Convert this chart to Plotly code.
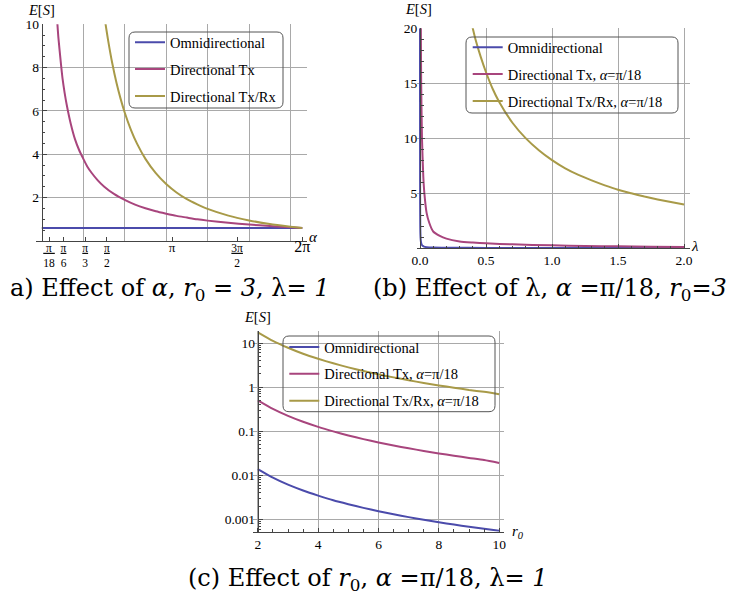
import plotly.graph_objects as go

W, H = 733, 594
PI = 3.141592653589793

# ---------------- data ----------------
# (a) effect of alpha
alpha_omni = [0.0, 1.0, 2.0, 3.0, 4.0, 5.0, 6.283]
omni_a = [0.6, 0.6, 0.6, 0.6, 0.6, 0.6, 0.6]
alpha_tx = [0.37, 0.40, 0.45, 0.50, 0.55, 0.60, 0.70, 0.80, 0.90, 1.00, 1.10, 1.20, 1.35, 1.50,
            1.75, 2.00, 2.25, 2.50, 2.75, 3.00, 3.25, 3.50, 3.75, 4.00, 4.50, 5.00, 5.50, 6.00, 6.283]
tx_a = [10.2, 9.4, 8.4, 7.5, 6.85, 6.3, 5.4, 4.7, 4.2, 3.8, 3.43, 3.15, 2.8, 2.52,
        2.16, 1.9, 1.68, 1.51, 1.37, 1.26, 1.16, 1.08, 1.0, 0.94, 0.84, 0.76, 0.69, 0.63, 0.6]
alpha_txrx = [1.50, 1.55, 1.60, 1.70, 1.80, 1.90, 2.00, 2.15, 2.30, 2.50, 2.75, 3.00, 3.25, 3.50,
              3.75, 4.00, 4.50, 5.00, 5.50, 6.00, 6.283]
txrx_a = [10.5, 9.86, 9.26, 8.2, 7.31, 6.57, 5.93, 5.13, 4.48, 3.79, 3.13, 2.63, 2.24, 1.93,
          1.69, 1.48, 1.17, 0.95, 0.78, 0.66, 0.6]
alpha_tickvals = [PI / 18, PI / 6, PI / 3, PI / 2, PI, 3 * PI / 2, 2 * PI]
alpha_ticktext = ["<u>\u00a0π\u00a0</u><br>18", "<u>π</u><br>6", "<u>π</u><br>3", "<u>π</u><br>2",
                  "<span style='font-size:13px'>π</span>", "<u>3π</u><br>2",
                  "<span style='font-size:16px'>2π</span>"]

# (b) effect of lambda
lam_omni = [0.0002, 0.0003, 0.0005, 0.001, 0.002, 0.003, 0.005, 0.008, 0.012, 0.02, 0.03,
            0.05, 0.1, 0.2, 0.5, 1.0, 1.5, 2.0]
omni_b = [20.0, 13.3, 8.0, 4.0, 2.0, 1.33, 0.8, 0.5, 0.33, 0.2, 0.13,
          0.08, 0.04, 0.02, 0.008, 0.004, 0.0027, 0.002]
lam_tx = [0.005, 0.0065, 0.009, 0.015, 0.025, 0.033, 0.05, 0.07, 0.1, 0.15, 0.2, 0.3, 0.4,
          0.5, 0.7, 1.0, 1.25, 1.5, 1.75, 2.0]
tx_b = [24.0, 20.0, 15.0, 10.0, 6.5, 5.0, 3.2, 2.3, 1.5, 1.1, 0.85, 0.6, 0.5,
        0.43, 0.33, 0.24, 0.19, 0.15, 0.12, 0.1]
lam_txrx = [0.39, 0.42, 0.46, 0.5, 0.55, 0.6, 0.7, 0.8, 0.9, 1.0, 1.1, 1.2, 1.3, 1.4, 1.5,
            1.6, 1.7, 1.8, 1.9, 2.0]
txrx_b = [20.5, 19.0, 17.4, 16.0, 14.5, 13.3, 11.4, 10.0, 8.9, 8.0, 7.25, 6.65, 6.15, 5.7, 5.3,
          4.98, 4.68, 4.42, 4.18, 3.96]

# (c) effect of r0
r0 = [2.0, 2.5, 3.0, 3.5, 4.0, 4.5, 5.0, 5.5, 6.0, 6.5, 7.0, 7.5, 8.0, 8.5, 9.0, 9.5, 10.0]
omni_c = [0.0138, 0.0088, 0.0061, 0.0045, 0.00345, 0.0027, 0.0022, 0.00182, 0.00153, 0.0013,
          0.00112, 0.00098, 0.00086, 0.00076, 0.00068, 0.00061, 0.00055]
tx_c = [0.5, 0.32, 0.222, 0.163, 0.125, 0.099, 0.08, 0.066, 0.0555, 0.0473, 0.0408, 0.0356,
        0.0313, 0.0277, 0.0247, 0.0222, 0.019]
txrx_c = [17.5, 11.2, 7.8, 5.7, 4.38, 3.46, 2.8, 2.31, 1.94, 1.66, 1.43, 1.24, 1.09, 0.97,
          0.86, 0.78, 0.69]
logc_tickvals = [0.001, 0.01, 0.1, 1, 10]
logc_ticktext = ["0.001", "0.01", "0.1", "1", "10"]

# ---------------- styling ----------------
C_OMNI = "#4b4bab"
C_TX = "#a8457d"
C_TXRX = "#a89a48"
GRID = "#a9a9a9"
AXC = "#444444"
SERIF = "Liberation Serif"


def X(px):
    return px / W


def Y(py):
    return 1 - py / H


fig = go.Figure()


def add(x, y, name, color, xa, ya, leg, grp):
    fig.add_trace(go.Scatter(x=x, y=y, name=name, mode="lines",
                             line=dict(color=color, width=2, shape="spline", smoothing=0.6),
                             xaxis=xa, yaxis=ya, legend=leg, legendgroup=grp,
                             hoverinfo="skip"))


add(alpha_omni, omni_a, "Omnidirectional", C_OMNI, "x", "y", "legend", "a1")
add(alpha_tx, tx_a, "Directional Tx", C_TX, "x", "y", "legend", "a2")
add(alpha_txrx, txrx_a, "Directional Tx/Rx", C_TXRX, "x", "y", "legend", "a3")

add(lam_omni, omni_b, "Omnidirectional", C_OMNI, "x2", "y2", "legend2", "b1")
add(lam_tx, tx_b, "Directional Tx, <i>α</i>=π/18", C_TX, "x2", "y2", "legend2", "b2")
add(lam_txrx, txrx_b, "Directional Tx/Rx, <i>α</i>=π/18", C_TXRX, "x2", "y2", "legend2", "b3")

add(r0, omni_c, "Omnidirectional", C_OMNI, "x3", "y3", "legend3", "c1")
add(r0, tx_c, "Directional Tx, <i>α</i>=π/18", C_TX, "x3", "y3", "legend3", "c2")
add(r0, txrx_c, "Directional Tx/Rx, <i>α</i>=π/18", C_TXRX, "x3", "y3", "legend3", "c3")

tickfont = dict(family=SERIF, size=13.5, color="black")
common = dict(showline=True, linecolor=AXC, linewidth=1, ticks="inside", tickcolor=AXC,
              ticklen=4, tickwidth=1, tickfont=tickfont, zeroline=False, automargin=False,
              gridcolor=GRID, gridwidth=1.2, fixedrange=True)
xa_common = {k: v for k, v in common.items() if k not in ("tickfont", "ticklen")}
MINOR = dict(ticks="inside", ticklen=2.5, tickcolor=AXC, showgrid=False)

fig.update_layout(
    width=W, height=H, margin=dict(l=0, r=0, t=0, b=0, autoexpand=False),
    paper_bgcolor="white", plot_bgcolor="white",
    xaxis=dict(domain=[X(36.4), X(306.7)], range=[-0.13, 6.39], anchor="y",
               tickmode="array", tickvals=alpha_tickvals, ticktext=alpha_ticktext,
               showgrid=False, ticklabelstandoff=-4,
               minor=dict(tickmode="array", tickvals=[1, 2, 3, 4, 5, 6], showgrid=True,
                          gridcolor=GRID, gridwidth=1.2, ticks=""),
               ticklen=4, tickfont=dict(family=SERIF, size=11.5, color="black"),
               **xa_common),
    yaxis=dict(domain=[Y(241), Y(24.3)], range=[0, 10], anchor="free", position=X(41.8),
               tickmode="array", tickvals=[2, 4, 6, 8, 10], showgrid=True,
               minor=dict(dtick=0.5, **MINOR), **common),
    xaxis2=dict(domain=[X(416.7), X(690)], range=[-0.025, 2.045], anchor="y2",
                tickmode="array", tickvals=[0, 0.5, 1.0, 1.5, 2.0],
                ticktext=["0.0", "0.5", "1.0", "1.5", "2.0"], showgrid=True,
                minor=dict(dtick=0.1, tick0=0, **MINOR), **common),
    yaxis2=dict(domain=[Y(248), Y(28.3)], range=[0, 20], anchor="free", position=X(420),
                tickmode="array", tickvals=[5, 10, 15, 20], showgrid=True,
                minor=dict(dtick=1, tick0=0, **MINOR), **common),
    xaxis3=dict(domain=[X(252.7), X(504)], range=[1.83, 10.16], anchor="y3",
                tickmode="array", tickvals=[2, 4, 6, 8, 10], showgrid=True,
                minor=dict(dtick=0.5, tick0=0, **MINOR), **common),
    yaxis3=dict(domain=[Y(531.7), Y(330.7)], type="log", range=[-3.281, 1.279], anchor="free",
                position=X(257.7), tickmode="array", tickvals=logc_tickvals,
                ticktext=logc_ticktext, showgrid=True,
                minor=dict(tickmode="array",
                           tickvals=[m * d for d in (0.0001, 0.001, 0.01, 0.1, 1, 10)
                                     for m in range(2, 10)], **MINOR),
                **common),
)

legfont = dict(family=SERIF, size=14.5, color="black")
legcommon = dict(bgcolor="rgba(0,0,0,0)", borderwidth=0, font=legfont, tracegroupgap=5,
                 xanchor="left", yanchor="top", orientation="v")
fig.update_layout(
    legend=dict(x=X(130), y=Y(26.3), **legcommon),
    legend2=dict(x=X(467.7), y=Y(31.3), **legcommon),
    legend3=dict(x=X(284.3), y=Y(331), **legcommon),
)


def rounded(x0, y0, x1, y1, r):
    p = (f"M {X(x0 + r)},{Y(y0)} L {X(x1 - r)},{Y(y0)} Q {X(x1)},{Y(y0)} {X(x1)},{Y(y0 + r)} "
         f"L {X(x1)},{Y(y1 - r)} Q {X(x1)},{Y(y1)} {X(x1 - r)},{Y(y1)} "
         f"L {X(x0 + r)},{Y(y1)} Q {X(x0)},{Y(y1)} {X(x0)},{Y(y1 - r)} "
         f"L {X(x0)},{Y(y0 + r)} Q {X(x0)},{Y(y0)} {X(x0 + r)},{Y(y0)} Z")
    return dict(type="path", path=p, xref="paper", yref="paper",
                line=dict(color="#555555", width=1), fillcolor="rgba(0,0,0,0)", layer="above")


fig.update_layout(shapes=[rounded(129, 32, 283, 108, 6),
                          rounded(466, 37, 678, 113, 6),
                          rounded(283, 336, 495, 411.7, 6)])

ann = []


def label(txt, px, py, size=15, family=SERIF, xanchor="center"):
    ann.append(dict(text=txt, x=X(px), y=Y(py), xref="paper", yref="paper", showarrow=False,
                    xanchor=xanchor, yanchor="middle",
                    font=dict(family=family, size=size, color="black")))


label("<i>E</i>[<i>S</i>]", 41, 10, 14.5)
label("<i>E</i>[<i>S</i>]", 418, 9, 14.5)
label("<i>E</i>[<i>S</i>]", 257, 317, 14.5)
label("<i>α</i>", 313, 237)
label("<i>λ</i>", 695, 246)
label("<i>r</i><sub><i>0</i></sub>", 518, 532)

CAP = "DejaVu Serif"
label("a) Effect of <i>α</i>, <i>r</i><sub>0</sub> = <i>3</i>, λ= <i>1</i>", 170, 289, 24, CAP)
label("(b) Effect of λ, <i>α</i> =π/18, <i>r</i><sub>0</sub>=<i>3</i>", 550, 289, 24, CAP)
label("(c) Effect of <i>r</i><sub>0</sub>, <i>α</i> =π/18, λ= <i>1</i>", 368, 579, 24, CAP)
fig.update_layout(annotations=ann)

# the page body would otherwise add an 8px default margin around the figure
fig.write_html("out.html", config={"displayModeBar": False},
               post_script="document.body.style.margin='0px';")
